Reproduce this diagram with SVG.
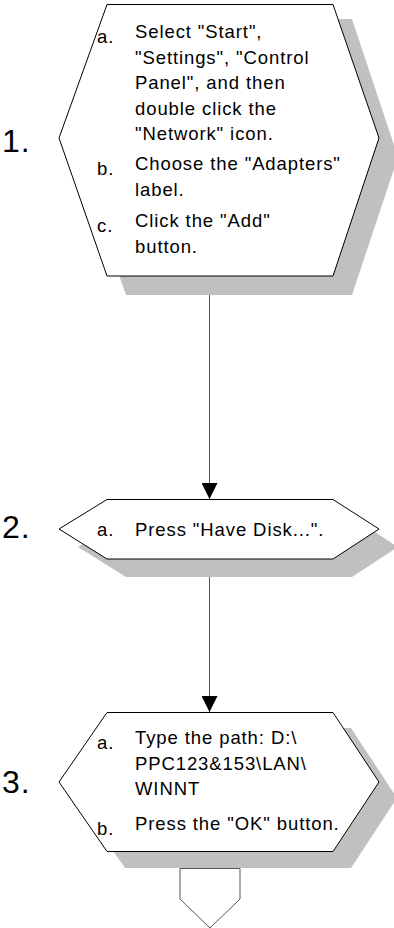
<svg xmlns="http://www.w3.org/2000/svg" width="394" height="928" viewBox="0 0 394 928">
<defs>
<style>
.shadow{fill:#c0c0c0;stroke:none}
.hex{fill:#fff;stroke:#000;stroke-width:1}
.t{font-family:"Liberation Sans",Arial,sans-serif;font-size:18.5px;letter-spacing:0.9px;fill:#000}
.num{font-family:"Liberation Sans",Arial,sans-serif;font-size:32px;letter-spacing:1px;fill:#000}
.conn{stroke:#555;stroke-width:1;fill:none}
.offpage{fill:#fff;stroke:#555;stroke-width:1}
</style>
<marker id="arrow" markerUnits="userSpaceOnUse" markerWidth="16" markerHeight="16" refX="16" refY="8" orient="auto">
<path d="M0,0 L16,8 L0,16 z" fill="#000"/>
</marker>
</defs>
<rect width="394" height="928" fill="#fff"/>
<g id="connectors">
<line class="conn" x1="209.5" y1="276" x2="209.5" y2="499" marker-end="url(#arrow)"/>
<line class="conn" x1="209.5" y1="559" x2="209.5" y2="712" marker-end="url(#arrow)"/>
</g>
<g id="node1">
<polygon class="shadow" points="126,19 352,19 398,157 352,295 126,295 78,157"/>
<polygon class="hex" points="107,4.5 333,4.5 379,138 333,276 107,276 59,138"/>
<text class="num" x="2" y="151.5">1.</text>
<text class="t" x="97" y="43">a.</text>
<text class="t" x="135" y="38">Select "Start",</text>
<text class="t" x="135" y="63.6">"Settings", "Control</text>
<text class="t" x="135" y="89.2">Panel", and then</text>
<text class="t" x="135" y="114.8">double click the</text>
<text class="t" x="135" y="140.4">"Network" icon.</text>
<text class="t" x="97" y="175">b.</text>
<text class="t" x="135" y="170">Choose the "Adapters"</text>
<text class="t" x="135" y="195.5">label.</text>
<text class="t" x="97" y="232">c.</text>
<text class="t" x="135" y="227">Click the "Add"</text>
<text class="t" x="135" y="253">button.</text>
</g>
<g id="node2">
<polygon class="shadow" points="126,517 352,517 398,547 352,577 126,577 78,547"/>
<polygon class="hex" points="107,499.5 333,499.5 379,529 333,559 107,559 59,529"/>
<text class="num" x="2" y="538">2.</text>
<text class="t" x="97" y="536">a.</text>
<text class="t" x="135" y="536">Press "Have Disk...".</text>
</g>
<g id="node3">
<polygon class="shadow" points="125,728 351,728 397,798 351,868 125,868 77,798"/>
<polygon class="hex" points="107,712.5 333,712.5 379,782 333,851.5 107,851.5 59,782"/>
<text class="num" x="2" y="793">3.</text>
<text class="t" x="97" y="749">a.</text>
<text class="t" x="135" y="744">Type the path: D:\</text>
<text class="t" x="135" y="769.5">PPC123&amp;153\LAN\</text>
<text class="t" x="135" y="795">WINNT</text>
<text class="t" x="97" y="835">b.</text>
<text class="t" x="135" y="830">Press the "OK" button.</text>
</g>
<g id="offpage">
<polygon class="offpage" points="180,868.5 240,868.5 240,899 210,928 180,899"/>
</g>
</svg>
